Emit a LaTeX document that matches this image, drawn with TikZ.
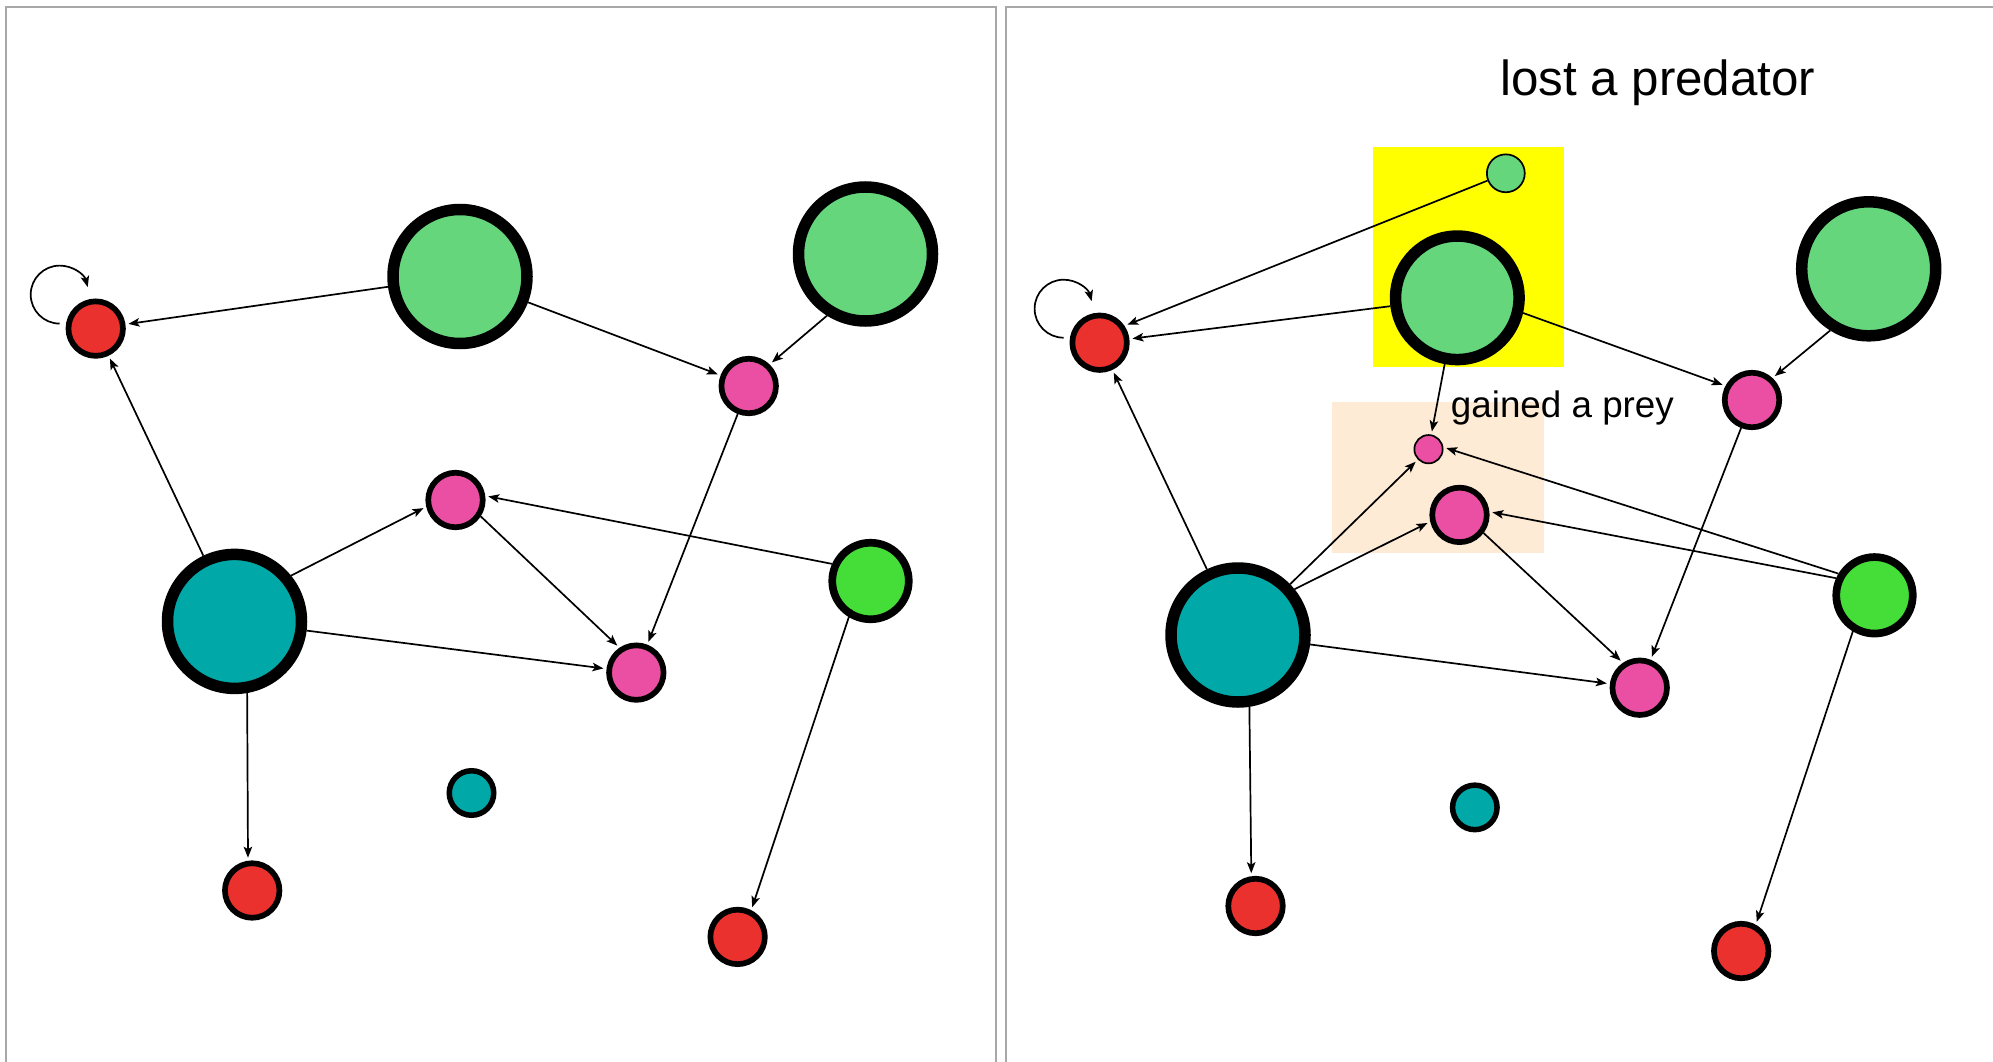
\documentclass[tikz,border=0pt]{standalone}
\usepackage{fontspec}
\setmainfont{Liberation Sans}
\usetikzlibrary{arrows.meta}

\definecolor{preyred}{RGB}{234,49,46}
\definecolor{leafgreen}{RGB}{102,214,125}
\definecolor{grazerpink}{RGB}{234,79,163}
\definecolor{deepteal}{RGB}{0,168,168}
\definecolor{brightgreen}{RGB}{69,222,57}
\definecolor{markyellow}{RGB}{255,255,0}
\definecolor{markpeach}{RGB}{253,235,213}
\definecolor{framegray}{RGB}{168,168,168}

\begin{document}
\begin{tikzpicture}[
  x=1pt, y=1pt,
  nd/.style={circle, draw=black, inner sep=0pt},
  bignode/.style={nd, line width=11.5pt, minimum size=134pt},
  bigsmaller/.style={nd, line width=11.5pt, minimum size=123.5pt},
  midnode/.style={nd, line width=5.7pt, minimum size=54.5pt},
  greennode/.style={nd, line width=7.7pt, minimum size=76.5pt},
  smallnode/.style={nd, line width=5.5pt, minimum size=44.5pt},
  thinnode/.style={nd, line width=1.7pt},
  link/.style={line width=1.7pt, -{Stealth[length=11pt,width=8.5pt,inset=2.5pt]}, shorten >=3pt},
  selfloop/.style={line width=1.7pt, -{Stealth[length=11pt,width=8.5pt,inset=2.5pt]}},
  frame/.style={draw=framegray, line width=2pt},
  label/.style={anchor=base west, inner sep=0pt, text=black}
]
\useasboundingbox (0,0) rectangle (1993,-1062);
\clip (0,0) rectangle (1993,-1062);
\fill[white] (0,0) rectangle (1993,-1062);

% two panels
\draw[frame] (6.4,-6.8) rectangle (996,-1090);
\draw[frame] (1006.3,-6.8) rectangle (2010,-1090);

% highlighted regions of the second web
\fill[markyellow] (1373,-147) rectangle (1563.7,-367);
\fill[markpeach] (1332,-401.7) rectangle (1544,-552.5);

% ---------- first web ----------
\node[midnode, fill=preyred]     (R1) at (95.7,-328.6) {};
\node[bignode, fill=leafgreen]   (G1) at (460,-276.5) {};
\node[bignode, fill=leafgreen]   (G2) at (865.5,-254) {};
\node[midnode, fill=grazerpink]  (P1) at (748.7,-386) {};
\node[midnode, fill=grazerpink]  (P2) at (455.5,-500) {};
\node[midnode, fill=grazerpink]  (P3) at (636.3,-672.6) {};
\node[bignode, fill=deepteal]    (T1) at (234.5,-621.4) {};
\node[greennode, fill=brightgreen] (G3) at (870.5,-581) {};
\node[smallnode, fill=deepteal]  (T2) at (471.5,-793) {};
\node[midnode, fill=preyred]     (R2) at (252.2,-890.5) {};
\node[midnode, fill=preyred]     (R3) at (737.6,-936.9) {};

\draw[selfloop] ([shift={(-36,5)}]R1.center) arc[start angle=-90, end angle=-345, radius=29];
\draw[link] (G1) -- (R1);
\draw[link] (G1) -- (P1);
\draw[link] (G2.238) -- (P1.46);
\draw[link] (T1) -- (R1);
\draw[link] (T1.39) -- (P2.193);
\draw[link] (T1) -- (P3);
\draw[link] (T1.-80) -- (R2.98);
\draw[link] (P2.-33) -- (P3.124);
\draw[link] (G3.156) -- (P2.8);
\draw[link] (P1) -- (P3);
\draw[link, shorten <=-8pt] (G3.239) -- (R3.63);

% ---------- second web ----------
\node[midnode, fill=preyred]     (R1b) at (1099.6,-342.7) {};
\node[thinnode, minimum size=37.9pt, fill=leafgreen] (G0) at (1505.8,-173.3) {};
\node[bigsmaller, fill=leafgreen] (G1b) at (1457.3,-297.8) {};
\node[bignode, fill=leafgreen]   (G2b) at (1868.7,-268.8) {};
\node[midnode, fill=grazerpink]  (P1b) at (1752,-400) {};
\node[thinnode, minimum size=28.3pt, fill=grazerpink] (P0) at (1428.5,-449.2) {};
\node[midnode, fill=grazerpink]  (P2b) at (1459.5,-514.9) {};
\node[midnode, fill=grazerpink]  (P3b) at (1639.7,-687.7) {};
\node[bignode, fill=deepteal]    (T1b) at (1238,-635) {};
\node[greennode, fill=brightgreen] (G3b) at (1874.5,-595.3) {};
\node[smallnode, fill=deepteal]  (T2b) at (1474.8,-807.4) {};
\node[midnode, fill=preyred]     (R2b) at (1255.5,-906) {};
\node[midnode, fill=preyred]     (R3b) at (1741.2,-951) {};

\draw[selfloop] ([shift={(-36,5)}]R1b.center) arc[start angle=-90, end angle=-345, radius=29];
\draw[link] (G0) -- (R1b.34);
\draw[link] (G1b) -- (R1b);
\draw[link] (G1b.-13) -- (P1b.152);
\draw[link] (G1b) -- (P0);
\draw[link] (G2b.238) -- (P1b.47);
\draw[link] (T1b) -- (R1b);
\draw[link] (T1b) -- (P0);
\draw[link] (T1b.39) -- (P2b.193);
\draw[link] (T1b) -- (P3b);
\draw[link] (T1b.-81) -- (R2b.98);
\draw[link] (P2b.-37) -- (P3b.124);
\draw[link] (G3b.156) -- (P2b.6);
\draw[link] (G3b.149) -- (P0.8);
\draw[link] (P1b) -- (P3b);
\draw[link, shorten <=-8pt] (G3b.239) -- (R3b.61);

% captions
\node[label, font=\fontsize{49.3}{59}\selectfont] (lost) at (1500,-95.5) {lost a predator};
\node[label, font=\fontsize{36.8}{44}\selectfont] (gained) at (1450.7,-417.7) {gained a prey};
\end{tikzpicture}
\end{document}
